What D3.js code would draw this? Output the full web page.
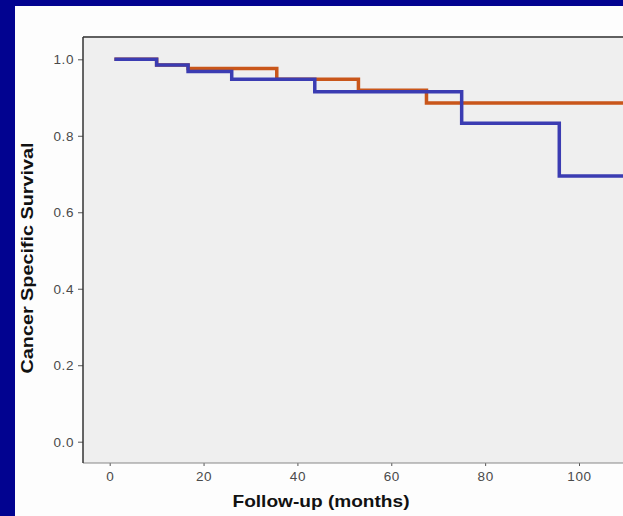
<!DOCTYPE html>
<meta charset="utf-8">
<style>
    body { margin: 0; background: #020390; }
    text { font-family: "Liberation Sans", Arial, sans-serif; }
    .tick text { fill: #4a4a4a; font-size: 13.5px; letter-spacing: 0.6px; }
    .tick line { stroke: #555; }
    .title { fill: #111; font-weight: bold; font-size: 17px; }
</style>
<body>
    <svg width="623" height="516"></svg>
</body>
<script src="https://d3js.org/d3.v7.min.js"></script>
<script>

    // Kaplan-Meier steps (months, survival)
    var blueTimes = [1, 10, 16.7, 26, 43.7, 75, 95.8, 115];
    var blueSurv  = [1, 0.985, 0.968, 0.948, 0.915, 0.833, 0.695, 0.695];
    var orangeTimes = [1, 10, 16.7, 35.6, 53, 67.5, 115];
    var orangeSurv  = [1, 0.985, 0.976, 0.948, 0.919, 0.886, 0.886];

    var xTicks = [0, 20, 40, 60, 80, 100];
    var yTicks = [0, 0.2, 0.4, 0.6, 0.8, 1.0];

    var svg = d3.select("svg");

    // navy frame, white card
    svg.append("rect").attr("width", 623).attr("height", 516).attr("fill", "#020390");
    svg.append("rect").attr("x", 15).attr("y", 6).attr("width", 608).attr("height", 510).attr("fill", "#fdfdfd");

    var x = d3.scaleLinear().domain([0, 100]).range([109.7, 579]);
    var y = d3.scaleLinear().domain([0, 1]).range([441.7, 59.3]);

    // panel edges (pixels)
    var pLeft = 83, pTop = 37, pBottom = 463, pRight = 640;

    // plot panel
    svg.append("rect")
        .attr("x", pLeft).attr("y", pTop)
        .attr("width", pRight - pLeft).attr("height", pBottom - pTop)
        .attr("fill", "#efefef");

    svg.append("clipPath").attr("id", "clip")
        .append("rect")
        .attr("x", pLeft).attr("y", pTop)
        .attr("width", pRight - pLeft).attr("height", pBottom - pTop);

    // axes
    var yAxis = svg.append("g")
        .attr("transform", "translate(" + pLeft + ",0)")
        .call(d3.axisLeft(y).tickValues(yTicks).tickSize(5).tickPadding(4)
            .tickFormat(d3.format(".1f")));
    yAxis.select(".domain").remove();

    var xAxis = svg.append("g")
        .attr("transform", "translate(0," + pBottom + ")")
        .call(d3.axisBottom(x).tickValues(xTicks).tickSize(3).tickPadding(5));
    xAxis.select(".domain").remove();
    xAxis.selectAll(".tick line").attr("stroke", "#999");

    // panel borders
    svg.append("line").attr("x1", pLeft).attr("x2", pRight).attr("y1", pTop).attr("y2", pTop)
        .attr("stroke", "#606060").attr("stroke-width", 2);
    svg.append("line").attr("x1", pLeft).attr("x2", pRight).attr("y1", pBottom).attr("y2", pBottom)
        .attr("stroke", "#888").attr("stroke-width", 1.2);
    svg.append("line").attr("x1", pLeft).attr("x2", pLeft).attr("y1", pTop).attr("y2", pBottom)
        .attr("stroke", "#333").attr("stroke-width", 1.5);

    // survival curves
    var line = d3.line()
        .x(function (d) { return x(d[0]); })
        .y(function (d) { return y(d[1]); })
        .curve(d3.curveStepAfter);

    var curves = svg.append("g").attr("clip-path", "url(#clip)");

    curves.append("path")
        .datum(d3.zip(orangeTimes, orangeSurv))
        .attr("d", line)
        .attr("fill", "none")
        .attr("stroke", "#c9561a")
        .attr("stroke-width", 3.5);

    curves.append("path")
        .datum(d3.zip(blueTimes, blueSurv))
        .attr("d", line)
        .attr("fill", "none")
        .attr("stroke", "#3b3cb2")
        .attr("stroke-width", 3.5);

    // titles
    svg.append("text")
        .attr("class", "title")
        .attr("x", 321).attr("y", 507)
        .attr("text-anchor", "middle")
        .attr("textLength", 177)
        .attr("lengthAdjust", "spacingAndGlyphs")
        .text("Follow-up (months)");

    svg.append("text")
        .attr("class", "title")
        .attr("transform", "translate(33,258) rotate(-90)")
        .attr("text-anchor", "middle")
        .attr("textLength", 231)
        .attr("lengthAdjust", "spacingAndGlyphs")
        .text("Cancer Specific Survival");

</script>
